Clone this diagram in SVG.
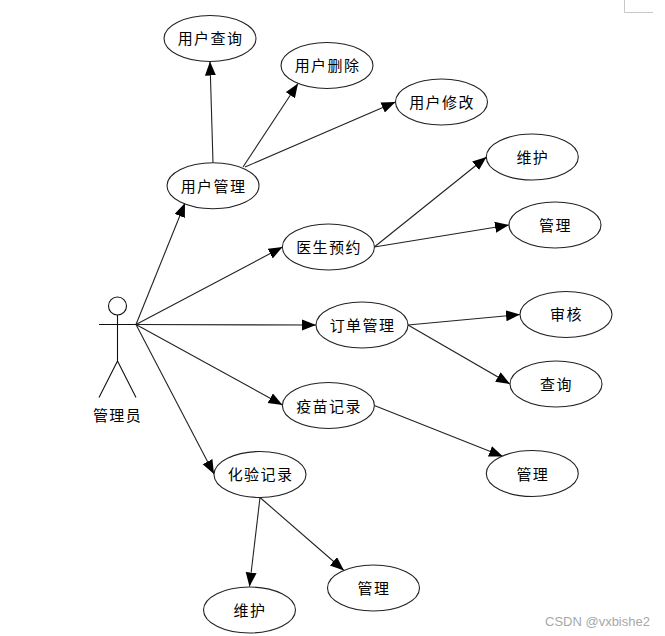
<svg xmlns="http://www.w3.org/2000/svg" width="665" height="636" viewBox="0 0 665 636">
<style>
.n ellipse{fill:#fff;stroke:#222;stroke-width:1.1}
.t{font-family:"Noto Sans CJK SC","Liberation Sans",sans-serif;font-size:15px;letter-spacing:1.4px;text-anchor:middle;fill:#000}
.c line{stroke:#222;stroke-width:1.1;marker-end:url(#a)}
.s{stroke:#111;stroke-width:1.1;fill:none}
</style>
<defs><marker id="a" markerUnits="userSpaceOnUse" markerWidth="15" markerHeight="13" refX="14" refY="5.5" orient="auto"><path d="M0 0L14 5.5L0 11Z" fill="#000"/></marker></defs>
<rect width="665" height="636" fill="#fff"/>
<path d="M624.5 0V12.5H653" fill="none" stroke="#c8c8c8"/>
<g id="connectors" class="c">
<line x1="213" y1="162.7" x2="210" y2="61.5"/>
<line x1="243" y1="167" x2="298" y2="83.5"/>
<line x1="245" y1="167" x2="395.5" y2="102"/>
<line x1="136" y1="324.5" x2="185" y2="203"/>
<line x1="136" y1="324.5" x2="282.5" y2="247"/>
<line x1="136" y1="324.5" x2="316" y2="325"/>
<line x1="136" y1="324.5" x2="282.5" y2="405"/>
<line x1="136" y1="324.5" x2="214" y2="474"/>
<line x1="374.3" y1="247" x2="486.5" y2="157"/>
<line x1="374.3" y1="247" x2="509" y2="225"/>
<line x1="408" y1="325" x2="520" y2="314.5"/>
<line x1="408" y1="325" x2="510" y2="384"/>
<line x1="374.3" y1="405.5" x2="503" y2="456.5"/>
<line x1="260" y1="497.5" x2="249.5" y2="586.5"/>
<line x1="260" y1="497.5" x2="344" y2="570.5"/>
</g>
<g id="actor"><circle class="s" cx="117.5" cy="306" r="9"/><path class="s" d="M117.5 315V361M99 324.5H136M117.5 361L99 397.5M117.5 361L136 397.5"/><text class="t" x="117.5" y="421">管理员</text></g>
<g id="n1" class="n"><ellipse cx="210" cy="38.5" rx="46" ry="23"/><text class="t" x="210.5" y="44">用户查询</text></g>
<g id="n2" class="n"><ellipse cx="327" cy="65.5" rx="46" ry="23"/><text class="t" x="327.5" y="71">用户删除</text></g>
<g id="n3" class="n"><ellipse cx="441.5" cy="102" rx="46" ry="23"/><text class="t" x="442" y="108">用户修改</text></g>
<g id="n4" class="n"><ellipse cx="213" cy="185.7" rx="46" ry="23"/><text class="t" x="213.5" y="191.5">用户管理</text></g>
<g id="n5" class="n"><ellipse cx="328.4" cy="247" rx="46" ry="23"/><text class="t" x="329" y="252.5">医生预约</text></g>
<g id="n6" class="n"><ellipse cx="532.3" cy="157" rx="46" ry="23"/><text class="t" x="532.8" y="162.5">维护</text></g>
<g id="n7" class="n"><ellipse cx="555" cy="225" rx="46" ry="23"/><text class="t" x="555.5" y="231">管理</text></g>
<g id="n8" class="n"><ellipse cx="362" cy="325" rx="46" ry="23"/><text class="t" x="362.5" y="330.5">订单管理</text></g>
<g id="n9" class="n"><ellipse cx="566" cy="314.5" rx="46" ry="23"/><text class="t" x="566.5" y="320">审核</text></g>
<g id="n10" class="n"><ellipse cx="556" cy="384" rx="46" ry="23"/><text class="t" x="556.5" y="389.5">查询</text></g>
<g id="n11" class="n"><ellipse cx="328.4" cy="405.5" rx="46" ry="23"/><text class="t" x="329" y="411.5">疫苗记录</text></g>
<g id="n12" class="n"><ellipse cx="532.3" cy="473.5" rx="46" ry="23"/><text class="t" x="532.8" y="479.5">管理</text></g>
<g id="n13" class="n"><ellipse cx="260" cy="474.5" rx="46" ry="23"/><text class="t" x="260.5" y="480">化验记录</text></g>
<g id="n14" class="n"><ellipse cx="249.5" cy="610" rx="46" ry="23"/><text class="t" x="250" y="616">维护</text></g>
<g id="n15" class="n"><ellipse cx="373.5" cy="588" rx="46" ry="23"/><text class="t" x="374" y="594">管理</text></g>
<text x="545" y="626" font-family="'Liberation Sans',sans-serif" font-size="13" fill="#a8a8a8">CSDN @vxbishe2</text>
</svg>
